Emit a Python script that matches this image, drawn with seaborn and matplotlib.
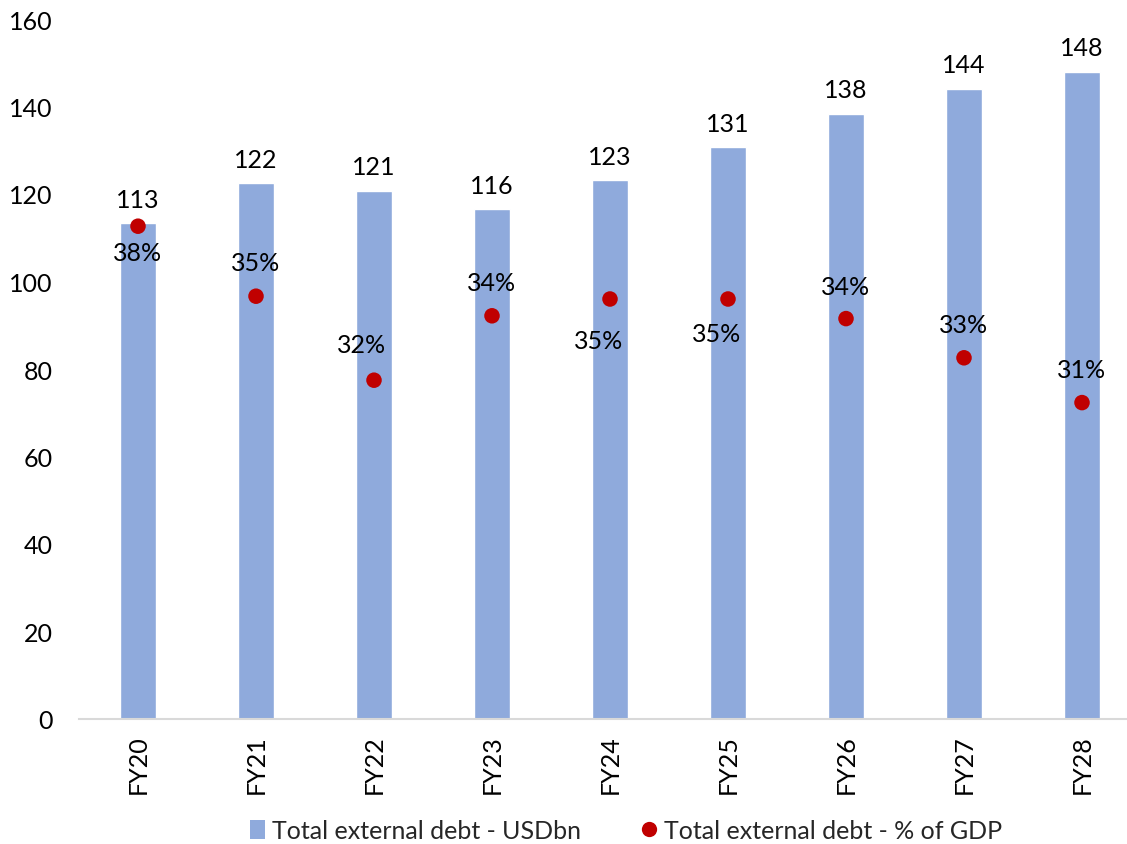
import matplotlib
matplotlib.use("Agg")
import matplotlib.pyplot as plt
import seaborn as sns
import pandas as pd
from matplotlib.lines import Line2D
from matplotlib.patches import Patch

# Data
years = ["FY20", "FY21", "FY22", "FY23", "FY24", "FY25", "FY26", "FY27", "FY28"]
debt_usdbn = [113.3, 122.5, 120.8, 116.5, 123.2, 130.8, 138.4, 144.1, 148.0]
debt_pct_gdp = [0.376, 0.351, 0.321, 0.344, 0.350, 0.350, 0.343, 0.329, 0.313]

# Label offsets (points) for the % labels: (dx, dy)
pct_offsets = [(0, -19), (0, 24), (-9, 26), (0, 24), (-8, -30), (-8, -25),
               (0, 23), (0, 24), (0, 24)]

BAR_COLOR = "#8FAADC"
DOT_COLOR = "#C00000"
FONT = ["Lato", "DejaVu Sans"]
FS = 18

sns.set_theme(style="white")
plt.rcParams["font.family"] = FONT

df = pd.DataFrame({"year": years, "usd": debt_usdbn, "pct": debt_pct_gdp})

fig = plt.figure(figsize=(11.27, 8.45), dpi=100)
ax = fig.add_axes([79 / 1127, 1 - 720 / 845, (1141 - 79) / 1127, 700 / 845])

sns.barplot(data=df, x="year", y="usd", color=BAR_COLOR, width=0.31,
            saturation=1, ax=ax, zorder=2)
ax.set_ylim(0, 160)
ax.set_xlim(-0.5, len(years) - 0.5)
ax.set_yticks(range(0, 161, 20))
ax.set_xlabel("")
ax.set_ylabel("")
for s in ["top", "right", "left"]:
    ax.spines[s].set_visible(False)
ax.spines["bottom"].set_color("#D9D9D9")
ax.spines["bottom"].set_linewidth(1.5)
ax.tick_params(axis="x", length=0, pad=11, labelsize=FS, labelrotation=90)
ax.tick_params(axis="y", length=0, pad=19, labelsize=FS)
for lbl in ax.get_xticklabels() + ax.get_yticklabels():
    lbl.set_color("black")

for i, v in enumerate(debt_usdbn):
    ax.annotate(f"{v:.0f}", (i, v), xytext=(0, 17), textcoords="offset points",
                ha="center", va="center", fontsize=FS, color="black")

ax2 = ax.twinx()
sns.scatterplot(x=list(range(len(years))), y=debt_pct_gdp, ax=ax2, color=DOT_COLOR,
                s=125, edgecolor="none", zorder=3, legend=False)
ax2.set_ylim(0.20, 0.45)
ax2.set_xlim(-0.5, len(years) - 0.5)
ax2.axis("off")
for i, (v, (dx, dy)) in enumerate(zip(debt_pct_gdp, pct_offsets)):
    ax2.annotate(f"{v * 100:.0f}%", (i, v), xytext=(dx, dy), textcoords="offset points",
                 ha="center", va="center", fontsize=FS, color="black")

handles = [
    Patch(facecolor=BAR_COLOR, edgecolor="none", label="Total external debt - USDbn"),
    Line2D([], [], marker="o", linestyle="none", markerfacecolor=DOT_COLOR,
           markeredgecolor="none", markersize=11, label="Total external debt - % of GDP"),
]
fig.legend(handles=handles, loc="center", bbox_to_anchor=(626 / 1127, 1 - 832 / 845),
           ncol=2, frameon=False, fontsize=FS, handlelength=0.6, handleheight=0.8,
           handletextpad=0.3, columnspacing=2.4)

fig.savefig("out.png", dpi=100)
